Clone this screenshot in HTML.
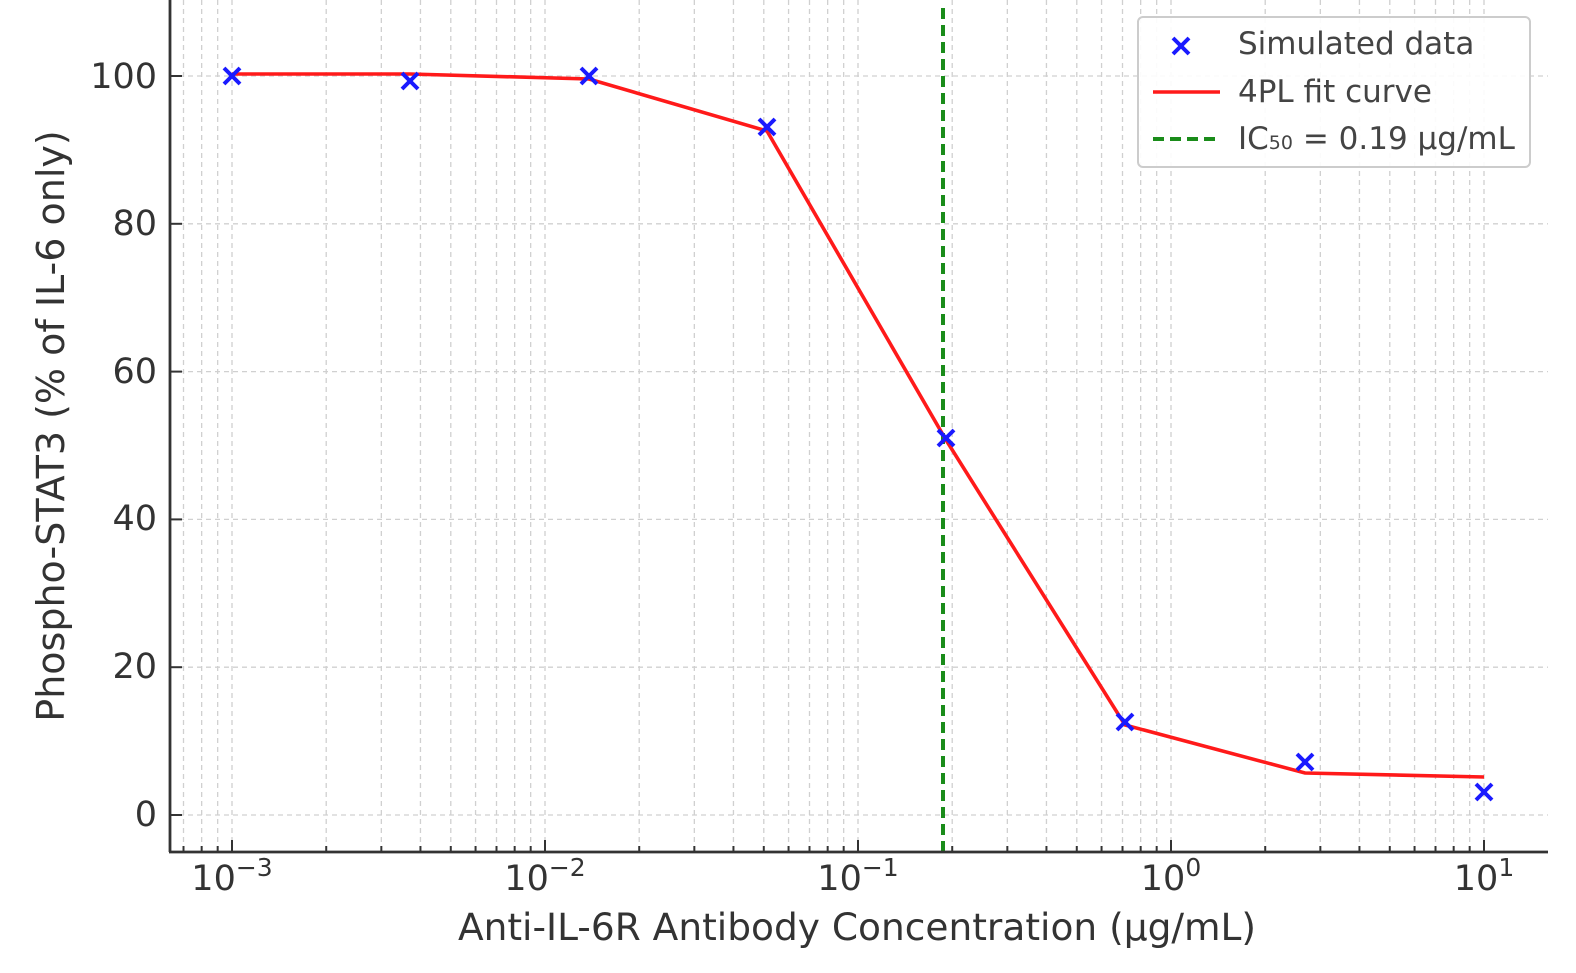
<!DOCTYPE html>
<html><head><meta charset="utf-8"><style>body{margin:0;background:#fff}svg{display:block}</style></head>
<body>
<svg width="1576" height="973" xmlns="http://www.w3.org/2000/svg" font-family="DejaVu Sans, Liberation Sans, sans-serif">
<g id="grid" stroke="#d0d0d0" stroke-width="1.3" stroke-dasharray="5,4"></g>
<line x1="943" y1="8" x2="943" y2="852" stroke="#1a8c1a" stroke-width="4" stroke-dasharray="11,6"/>
<polyline fill="none" stroke="#ff1a1a" stroke-width="3.6" points="232,74 410,74 589,79 767,131 946,440 1125,725 1305,773 1484,777"/>
<g id="marks" stroke="#1a1aff" stroke-width="4"></g>
<g id="ticks" stroke="#333" stroke-width="2"></g>
<line x1="170" y1="0" x2="170" y2="852" stroke="#333" stroke-width="2.8"/>
<line x1="169" y1="852" x2="1548" y2="852" stroke="#333" stroke-width="2.8"/>
<g fill="#333" font-size="35" text-anchor="end">
<text x="157" y="88">100</text><text x="157" y="235">80</text><text x="157" y="383">60</text><text x="157" y="530">40</text><text x="157" y="678">20</text><text x="157" y="826">0</text>
</g>
<g fill="#333" font-size="35" text-anchor="middle" id="xl"></g>
<text x="857" y="940" fill="#333" font-size="37.5" text-anchor="middle">Anti-IL-6R Antibody Concentration (µg/mL)</text>
<text transform="translate(64,426) rotate(-90)" fill="#333" font-size="38" text-anchor="middle">Phospho-STAT3 (% of IL-6 only)</text>
<rect x="1138" y="17" width="392" height="150" rx="5" fill="#fff" fill-opacity="0.9" stroke="#ccc" stroke-width="2"/>
<g stroke="#1a1aff" stroke-width="4"><line x1="1173" y1="38" x2="1189" y2="54"/><line x1="1189" y1="38" x2="1173" y2="54"/></g>
<line x1="1153" y1="92" x2="1220" y2="92" stroke="#ff1a1a" stroke-width="3.6"/>
<line x1="1153" y1="139" x2="1220" y2="139" stroke="#1a8c1a" stroke-width="4" stroke-dasharray="11,6"/>
<g fill="#444" font-size="31">
<text x="1238" y="54">Simulated data</text>
<text x="1238" y="102">4PL fit curve</text>
<text x="1238" y="149">IC<tspan font-size="19">50</tspan> = 0.19 µg/mL</text>
</g>
<script>
var ns="http://www.w3.org/2000/svg";
function el(p,t,a){var e=document.createElementNS(ns,t);for(var k in a)e.setAttribute(k,a[k]);p.appendChild(e);return e;}
var g=document.getElementById('grid'),tk=document.getElementById('ticks'),xl=document.getElementById('xl');
function X(l){return 232+(l+3)*313;}
for(var d=-4;d<=1;d++){for(var m=1;m<10;m++){var x=X(d+Math.log10(m));if(x<171||x>1546)continue;
 el(g,'line',{x1:x,y1:0,x2:x,y2:852});el(tk,'line',{x1:x,y1:852,x2:x,y2:852-(m==1?12:6)});}}
for(var v=0;v<=100;v+=20){var y=815-v*7.39;el(g,'line',{x1:170,y1:y,x2:1548,y2:y});el(tk,'line',{x1:170,y1:y,x2:182,y2:y});}
[-3,-2,-1,0,1].forEach(function(d){var t=el(xl,'text',{x:X(d),y:890});t.textContent='10';var s=el(t,'tspan',{dy:'-14','font-size':'25'});s.textContent=(d<0?'\u2212'+(-d):d);});
var mk=document.getElementById('marks');
[[232,76],[410,81],[589,76],[767,127],[946,438],[1125,722],[1305,762],[1484,792]].forEach(function(p){
el(mk,'line',{x1:p[0]-8,y1:p[1]-8,x2:p[0]+8,y2:p[1]+8});el(mk,'line',{x1:p[0]+8,y1:p[1]-8,x2:p[0]-8,y2:p[1]+8});});
</script>
</svg>
</body></html>
